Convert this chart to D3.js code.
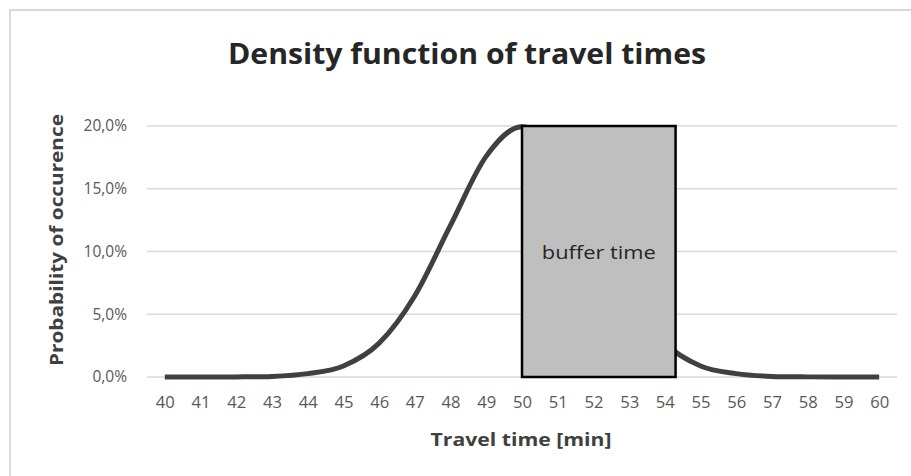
<!DOCTYPE html>
<html>
<head>
<meta charset="utf-8">
<script src="https://cdn.jsdelivr.net/npm/d3@7"></script>
<style>
  html, body { margin: 0; padding: 0; background: #ffffff; }
  svg { display: block; }
</style>
</head>
<body>
<svg id="chart" width="911" height="476"></svg>
<script>
// ---- data ----
const minutes = [40, 41, 42, 43, 44, 45, 46, 47, 48, 49, 50, 51, 52, 53, 54, 55, 56, 57, 58, 59, 60];
const density = [0.00, 0.00, 0.01, 0.04, 0.27, 0.88, 2.70, 6.48, 12.10, 17.60, 19.95, 17.60, 12.10, 6.48, 2.70, 0.88, 0.27, 0.04, 0.01, 0.00, 0.00]; // percent
const yTicks = [0, 5, 10, 15, 20];
const bufferStart = [50];
const bufferEnd = [54.3];
const bufferHeight = [20];
const bufferLabel = ["buffer time"];
const titleText = "Density function of travel times";
const xTitle = "Travel time [min]";
const yTitle = "Probability of occurence";

// ---- layout ----
const svg = d3.select("#chart");
const plot = { left: 147, right: 897, top: 126, bottom: 377 };
const font = "'Open Sans', 'Liberation Sans', sans-serif";

// chart frame
svg.append("rect")
  .attr("x", 10).attr("y", 10)
  .attr("width", 911).attr("height", 476)
  .attr("fill", "#ffffff")
  .attr("stroke", "#d9d9d9").attr("stroke-width", 2);

const x = d3.scaleLinear().domain([39.5, 60.5]).range([plot.left, plot.right]);
const y = d3.scaleLinear().domain([0, 20]).range([plot.bottom, plot.top]);

// gridlines
svg.append("g").selectAll("line").data(yTicks).join("line")
  .attr("x1", plot.left).attr("x2", plot.right)
  .attr("y1", d => y(d)).attr("y2", d => y(d))
  .attr("stroke", "#d9d9d9").attr("stroke-width", 1.3);

// y axis labels
const yAxis = d3.axisLeft(y).tickValues(yTicks).tickSize(0).tickPadding(0)
  .tickFormat(d => d3.format(".1f")(d).replace(".", ",") + "%");
const gy = svg.append("g").attr("transform", `translate(${plot.left - 20},0)`).call(yAxis);
gy.select(".domain").remove();
gy.selectAll("text").attr("font-family", font).attr("font-size", 15.5).attr("fill", "#595959");

// x axis labels
const xAxis = d3.axisBottom(x).tickValues(minutes).tickSize(0).tickPadding(0).tickFormat(d3.format("d"));
const gx = svg.append("g").attr("transform", `translate(0,${plot.bottom + 20})`).call(xAxis);
gx.select(".domain").remove();
gx.selectAll("text").attr("font-family", font).attr("font-size", 16).attr("fill", "#595959")
  .attr("textLength", 19).attr("lengthAdjust", "spacingAndGlyphs");

// density curve
const line = d3.line()
  .x((d, i) => x(minutes[i]))
  .y(d => y(d))
  .curve(d3.curveCardinal.tension(0));
svg.append("path")
  .datum(density)
  .attr("d", line)
  .attr("fill", "none")
  .attr("stroke", "#404040")
  .attr("stroke-width", 5)
  .attr("stroke-linecap", "butt");

// buffer box
svg.append("g").selectAll("rect").data(bufferStart).join("rect")
  .attr("x", (d, i) => x(d))
  .attr("y", (d, i) => y(bufferHeight[i]))
  .attr("width", (d, i) => x(bufferEnd[i]) - x(d))
  .attr("height", (d, i) => y(0) - y(bufferHeight[i]))
  .attr("fill", "#bfbfbf")
  .attr("stroke", "#000000")
  .attr("stroke-width", 2.5);

svg.append("g").selectAll("text").data(bufferLabel).join("text")
  .attr("x", (d, i) => (x(bufferStart[i]) + x(bufferEnd[i])) / 2)
  .attr("y", y(10) + 7)
  .attr("text-anchor", "middle")
  .attr("font-family", font)
  .attr("font-size", 19)
  .attr("fill", "#262626")
  .attr("textLength", 114)
  .attr("lengthAdjust", "spacingAndGlyphs")
  .text(d => d);

// title
svg.append("text")
  .attr("x", 467).attr("y", 64)
  .attr("text-anchor", "middle")
  .attr("font-family", font)
  .attr("font-weight", "bold")
  .attr("font-size", 28)
  .attr("fill", "#262626")
  .attr("textLength", 478)
  .attr("lengthAdjust", "spacingAndGlyphs")
  .text(titleText);

// x axis title
svg.append("text")
  .attr("x", 521).attr("y", 446)
  .attr("text-anchor", "middle")
  .attr("font-family", font)
  .attr("font-weight", "bold")
  .attr("font-size", 18)
  .attr("fill", "#404040")
  .attr("textLength", 181)
  .attr("lengthAdjust", "spacingAndGlyphs")
  .text(xTitle);

// y axis title
svg.append("text")
  .attr("transform", `translate(63,${(114 + 366) / 2}) rotate(-90)`)
  .attr("text-anchor", "middle")
  .attr("font-family", font)
  .attr("font-weight", "bold")
  .attr("font-size", 18)
  .attr("fill", "#404040")
  .attr("textLength", 252)
  .attr("lengthAdjust", "spacingAndGlyphs")
  .text(yTitle);
</script>
</body>
</html>
